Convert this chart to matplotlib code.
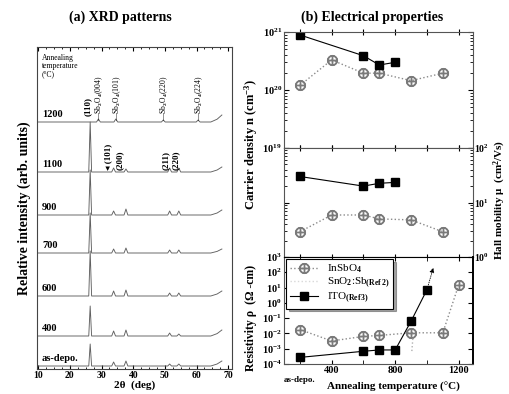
import numpy as np
import matplotlib.pyplot as plt
from matplotlib.lines import Line2D

plt.rcParams['font.family'] = ['Liberation Serif', 'DejaVu Sans']
plt.rcParams['font.weight'] = 'bold'
plt.rcParams['axes.labelweight'] = 'bold'
plt.rcParams['mathtext.fontset'] = 'custom'
plt.rcParams['mathtext.rm'] = 'Liberation Serif:bold'
plt.rcParams['mathtext.bf'] = 'Liberation Serif:bold'
plt.rcParams['mathtext.it'] = 'Liberation Serif:bold:italic'

# ---- (a) XRD patterns ----
xrd_labels = ['as-depo.', '400', '600', '700', '900', '1100']
xrd_offsets = [3, 33, 73, 116, 154, 197]
insb_peaks = [26.4, 33.8, 37.7, 51.5, 54.4]
insb_heights = [
    [22, 4, 5, 2, 2],
    [30, 5, 6, 3, 2],
    [45, 5, 6, 3, 3],
    [40, 4, 5, 3, 3],
    [45, 4, 6, 4, 4],
    [50, 4, 3, 4, 4],
]
tail_heights = [5, 6, 5, 4, 5, 5]

sb_offset = 247
sb_peaks = [29.0, 34.5, 49.5, 60.5]
sb_heights = [3, 3, 2, 2]
sb_tail = 7
sb_names = ['Sb$_2$O$_4$(004)', 'Sb$_2$O$_4$(101)', 'Sb$_2$O$_4$(220)', 'Sb$_2$O$_4$(224)']
hkl_names = ['(110)', '\u25c2 (101)', '(200)', '(211)', '(220)']
hkl_pos = [25.6, 32.2, 35.8, 50.2, 53.6]

# ---- (b) electrical properties ----
T_insb = [200, 400, 600, 700, 900, 1100]
n_insb = [1.2e20, 3.3e20, 1.95e20, 1.95e20, 1.45e20, 1.95e20]
mu_insb = [2.9, 5.9, 5.9, 5.0, 4.8, 2.9]
T_insb_rho = [200, 400, 600, 700, 900, 1100, 1200]
rho_insb = [1.8e-2, 3.2e-3, 6.4e-3, 7.4e-3, 1.1e-2, 1.1e-2, 15]

T_ito = [200, 600, 700, 800]
n_ito = [8.9e20, 3.9e20, 2.7e20, 3.0e20]
mu_ito = [30, 20, 22.5, 23.4]
T_ito_rho = [200, 600, 700, 800, 900, 1000]
rho_ito = [2.7e-4, 6.8e-4, 8.3e-4, 8.3e-4, 6.3e-2, 7.2]
ito_off_T = 1045
ito_off_rho = 3e2

T_ato = [905, 912]
rho_ato = [7e-4, 6e-3]


def pattern(peaks, heights, tail):
    xs, ys = [10.0], [0.0]
    for p, h in zip(peaks, heights):
        w = 0.45 if h > 15 else 0.6
        xs += [p - w, p, p + w]
        ys += [0, h, 0]
    xs += [64.5, 66.5, 68.0]
    ys += [0, tail * 0.4, tail]
    return np.array(xs), np.array(ys)


fig = plt.figure(figsize=(5.09, 3.94), dpi=100)

axL = fig.add_axes([37 / 509, 1 - 369 / 394, 195 / 509, 322 / 394])
for lab, off, hts, tl in zip(xrd_labels, xrd_offsets, insb_heights, tail_heights):
    xs, ys = pattern(insb_peaks, hts, tl)
    axL.plot(xs, ys + off, color='#606060', lw=0.65)
    axL.text(11.2, off + 3, lab, fontsize=7.5, va='bottom', ha='left')
xs, ys = pattern(sb_peaks, sb_heights, sb_tail)
axL.plot(xs, ys + sb_offset, color='#606060', lw=0.65)
axL.text(11.2, sb_offset + 3, '1200', fontsize=7.5, va='bottom', ha='left')
axL.text(11.2, 315, 'Annealing\ntemperature\n(°C)', fontsize=5.5, va='top', ha='left',
         fontweight='normal', linespacing=1.0)
for name, p in zip(sb_names, sb_peaks):
    axL.text(p + 0.4, sb_offset + 1, '\u2014' + name, rotation=90, fontsize=5.5,
             va='bottom', ha='center', fontweight='normal')
off1100 = xrd_offsets[-1]
for name, p in zip(hkl_names, hkl_pos):
    yb = off1100 + 56 if name == '(110)' else off1100 + 2
    axL.text(p, yb, name, rotation=90, fontsize=6.5, va='bottom', ha='center')

axL.set_xlim(9.6, 71.2)
axL.set_ylim(0, 322)
axL.set_xticks(np.arange(10, 71, 10))
axL.set_xticks(np.arange(10, 71, 2.5), minor=True)
axL.set_yticks([])
axL.tick_params(axis='x', direction='in', top=True, labelsize=7, length=3, pad=1.5)
axL.tick_params(axis='x', which='minor', direction='in', top=True, length=1.5)
for s in axL.spines.values():
    s.set_color('#444444')
    s.set_linewidth(0.8)
axL.set_xlabel('2θ  (deg)', fontsize=8, labelpad=0)
axL.set_ylabel('Relative intensity (arb. units)', fontsize=10, labelpad=4)
fig.text(120 / 509, 1 - 17 / 394, '(a) XRD patterns', fontsize=10, ha='center', va='center')
fig.text(372 / 509, 1 - 17 / 394, '(b) Electrical properties', fontsize=10, ha='center', va='center')

x0, w = 284 / 509, 189 / 509
ax1 = fig.add_axes([x0, 1 - 148 / 394, w, 116 / 394])
ax2 = fig.add_axes([x0, 1 - 257 / 394, w, 109 / 394])
ax3 = fig.add_axes([x0, 1 - 364 / 394, w, 107 / 394])

insb_style = dict(color='#8a8a8a', ls=':', lw=1.0, marker='$\\oplus$', ms=7, mec='#7a7a7a', mfc='#7a7a7a')
ito_style = dict(color='black', ls='-', lw=0.8, marker='s', ms=5.5, mfc='black', mec='black')

ax1.plot(T_insb, n_insb, **insb_style)
ax1.plot(T_ito, n_ito, **ito_style)
ax2.plot(T_insb, mu_insb, **insb_style)
ax2.plot(T_ito, mu_ito, **ito_style)
ax3.plot(T_insb_rho, rho_insb, **insb_style)
ax3.plot(T_ato, rho_ato, color='#b0b0b0', ls=':', lw=1.0)
ax3.plot(T_ito_rho, rho_ito, **ito_style)
ax3.annotate('', xy=(ito_off_T, ito_off_rho), xytext=(T_ito_rho[-1], rho_ito[-1]),
             arrowprops=dict(arrowstyle='-|>', color='black', lw=0.6, ls=':', mutation_scale=7))

for ax in (ax1, ax2, ax3):
    ax.set_xlim(100, 1290)
    ax.set_yscale('log')
    ax.set_xticks(np.arange(200, 1201, 200))
    ax.tick_params(axis='both', which='both', direction='in', labelsize=7.5, pad=1.5)
    ax.tick_params(axis='x', direction='inout', length=5, top=True)
    for s in ax.spines.values():
        s.set_color('#555555')
        s.set_linewidth(0.8)

ax1.set_ylim(1e19, 1e21)
ax1.tick_params(axis='y', which='both', right=True)
ax1.tick_params(axis='x', labelbottom=False)

ax2.set_ylim(1, 100)
ax2.yaxis.tick_right()
ax2.tick_params(axis='y', which='both', left=True, labelleft=False, labelsize=7, pad=1)
ax2.tick_params(axis='x', labelbottom=False)

ax3.set_ylim(1e-4, 1e3)
ax3.set_yticks([10.0 ** k for k in range(-4, 4)])
ax3.tick_params(axis='y', which='both', right=True)
ax3.set_xticks([400, 800, 1200])
ax3.set_xticks([200, 600, 1000], minor=True)
ax3.tick_params(axis='x', which='both', direction='in', top=True, length=3)
ax3.spines['top'].set_color('black')
ax3.spines['right'].set_color('black')
ax3.spines['right'].set_linewidth(1.4)
ax3.text(T_insb[0], -0.11, 'as-depo.', transform=ax3.get_xaxis_transform(),
         fontsize=6.5, ha='center', va='top')
ax3.set_xlabel('Annealing temperature (°C)', fontsize=8)
ax3.xaxis.set_label_coords(0.58, -0.17)

handles = [
    Line2D([], [], **insb_style),
    Line2D([], [], color='#d8d8d8', ls=':', lw=1.0),
    Line2D([], [], **ito_style),
]
leg = ax3.legend(handles, ['InSbO$_4$', 'SnO$_2$:Sb$_{\\rm (Ref\\,2)}$', 'ITO$_{\\rm (Ref\\,3)}$'],
                 loc='upper left', frameon=True, fancybox=False, shadow=True,
                 borderpad=0.3, labelspacing=0.1, handlelength=2.6, borderaxespad=0.2,
                 prop={'weight': 'normal', 'size': 8})
leg.get_frame().set_edgecolor('black')
leg.get_frame().set_linewidth(0.8)

fig.text(251 / 509, 1 - 145 / 394, 'Carrier density n (cm$^{-3}$)', rotation=90,
         fontsize=9, ha='center', va='center')
fig.text(251 / 509, 1 - 318 / 394, 'Resistivity ρ  (Ω -cm)', rotation=90,
         fontsize=8.5, ha='center', va='center')
fig.text(500 / 509, 1 - 200 / 394, 'Hall mobility μ  (cm$^2$/Vs)', rotation=90,
         fontsize=8, ha='center', va='center')

fig.savefig('out.png', dpi=100)
